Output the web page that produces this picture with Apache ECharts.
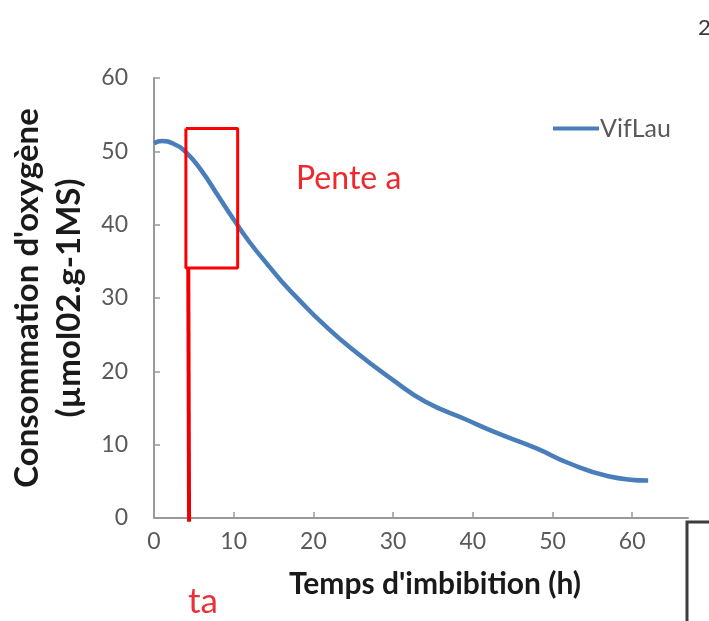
<!DOCTYPE html>
<html>
<head>
<meta charset="utf-8">
<script src="https://cdn.jsdelivr.net/npm/echarts@6/dist/echarts.min.js"></script>
<style>
  html, body { margin: 0; padding: 0; background: #fff; }
  #chart { width: 709px; height: 621px; }
</style>
</head>
<body>
<div id="chart"></div>
<script>
// Imbibition time (h) and oxygen consumption for the VifLau seed lot
const time = [0, 1, 2.5, 4, 6, 8, 10, 12, 14, 16, 18.5, 21, 25, 30, 34, 39, 43, 48, 52, 57, 62];
const o2   = [51.1, 51.4, 51.0, 49.9, 47.3, 44.0, 40.7, 37.6, 34.9, 32.3, 29.4, 26.7, 22.9, 18.8, 15.9, 13.5, 11.6, 9.5, 7.5, 5.7, 5.1];

// Tick values shown on each axis
const xTicks = [0, 10, 20, 30, 40, 50, 60];
const yTicks = [0, 10, 20, 30, 40, 50, 60];

// Slope window ("Pente a") and the onset time marker (ta)
const slopeBoxX = [4.0, 10.5, 10.5, 4.0, 4.0];
const slopeBoxY = [53.1, 53.1, 34.1, 34.1, 53.1];
const taLineX = [4.3, 4.4];
const taLineY = [34.1, -0.5];

const FONT = 'Lato, "Open Sans", sans-serif';
const zip = (a, b) => a.map((v, i) => [v, b[i]]);

const chart = echarts.init(document.getElementById('chart'));
chart.setOption({
  animation: false,
  backgroundColor: '#ffffff',
  textStyle: { fontFamily: FONT },
  grid: { left: 154, right: 21, top: 78, bottom: 103, containLabel: false, outerBoundsMode: 'none' },
  legend: {
    data: [{ name: 'VifLau', icon: 'rect' }],
    left: 548, top: 111,
    itemWidth: 46, itemHeight: 4, itemGap: 0,
    textStyle: { fontFamily: FONT, fontSize: 25, color: '#595959', padding: [0, 0, 0, -4] }
  },
  xAxis: {
    type: 'value', min: 0, max: 67,
    name: "Temps d'imbibition (h)",
    nameLocation: 'middle', nameGap: 51,
    nameTextStyle: { fontFamily: FONT, fontSize: 30, fontWeight: 'bold', color: '#1a1a1a', padding: [0, 0, 0, 28] },
    axisLine: { lineStyle: { color: '#999999', width: 2 } },
    axisTick: { inside: true, length: 6, customValues: xTicks, lineStyle: { color: '#999999', width: 1.5 } },
    axisLabel: { customValues: xTicks, fontFamily: FONT, fontSize: 23, color: '#595959', margin: 12 },
    splitLine: { show: false }
  },
  yAxis: {
    type: 'value', min: 0, max: 60,
    name: "Consommation d'oxygène\n(µmol02.g-1MS)",
    nameLocation: 'middle', nameGap: 63,
    nameTextStyle: { fontFamily: FONT, fontSize: 33, fontWeight: 'bold', color: '#1a1a1a', lineHeight: 42, align: 'center' },
    axisLine: { show: true, lineStyle: { color: '#999999', width: 2 } },
    axisTick: { show: true, inside: true, length: 6, customValues: yTicks, lineStyle: { color: '#999999', width: 1.5 } },
    axisLabel: { customValues: yTicks, fontFamily: FONT, fontSize: 23, color: '#595959', margin: 26 },
    splitLine: { show: false }
  },
  series: [
    {
      name: 'VifLau', type: 'line', data: zip(time, o2),
      smooth: 0.5, symbol: 'none', showSymbol: false,
      lineStyle: { color: '#4a7ebb', width: 4.5 },
      itemStyle: { color: '#4a7ebb' },
      z: 3
    },
    {
      name: 'Pente a', type: 'line', data: zip(slopeBoxX, slopeBoxY),
      symbol: 'none', showSymbol: false, clip: false,
      lineStyle: { color: '#ff0000', width: 3 },
      z: 4
    },
    {
      name: 'ta', type: 'line', data: zip(taLineX, taLineY),
      symbol: 'none', showSymbol: false, clip: false,
      lineStyle: { color: '#ee0000', width: 4 },
      z: 4
    }
  ],
  graphic: [
    { type: 'text', left: 296, top: 163, style: { text: 'Pente a', fill: '#f0282d', font: '32px ' + FONT } },
    { type: 'text', left: 188, top: 584, style: { text: 'ta', fill: '#e8323a', font: '35px ' + FONT } },
    { type: 'rect', shape: { x: 687, y: 522, width: 40, height: 120 }, style: { fill: '#ffffff', stroke: '#3c3c3c', lineWidth: 3 } },
    { type: 'text', left: 698, top: 17, style: { text: '2', fill: '#3a3a3a', font: '22px ' + FONT } }
  ]
});
</script>
</body>
</html>
